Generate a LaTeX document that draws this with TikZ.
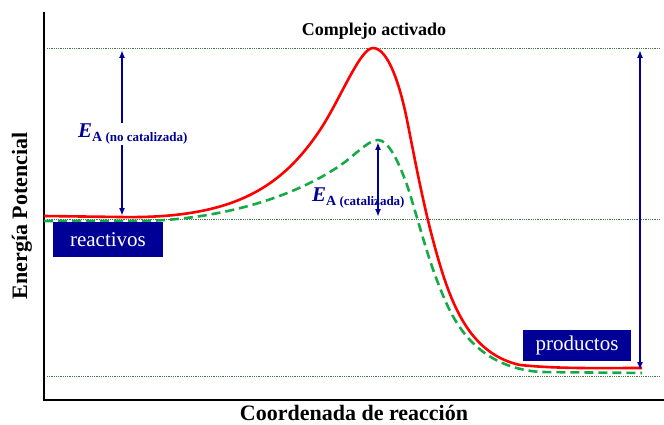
\documentclass[tikz,border=0pt]{standalone}
\usepackage{fontspec}
\setmainfont{Liberation Serif}
\usetikzlibrary{arrows.meta}
\definecolor{navy}{RGB}{0,0,150}
\definecolor{dotgreen}{RGB}{70,120,70}
\definecolor{dashgreen}{RGB}{20,170,70}
\tikzset{
  level/.style={dotgreen, densely dotted, line width=.8pt},
  ea/.style={navy, line width=2pt, {Latex[length=8pt,width=6pt]}-{Latex[length=8pt,width=6pt]}},
  statebox/.style={fill=navy, text=white, font=\fontsize{21}{21}\selectfont},
  ealabel/.style={navy, fill=white, inner sep=1pt, font=\bfseries\fontsize{13}{13}\selectfont},
}
\newcommand{\EA}[1]{{\fontsize{21}{21}\selectfont\textit{E}}\raisebox{-4pt}{{\fontsize{14}{14}\selectfont A} (#1)}}
\begin{document}
\begin{tikzpicture}[x=1pt, y=-1pt]
    \useasboundingbox (0,0) rectangle (664,425);
    \foreach \y in {48,219,376}
      \draw[level] (47,\y) -- (660,\y);
    \draw[line width=1.6pt] (44,12) -- (44,400) -- (664,400);

    \draw[dashgreen, line width=2.6pt, dash pattern=on 9pt off 5pt]
      (44,221) -- (130,221) .. controls (220,222) and (300,195) .. (345,162)
      .. controls (360,150) and (370,140) .. (378,140)
      .. controls (388,140) and (398,160) .. (407,185)
      .. controls (418,218) and (428,262) .. (445,300)
      .. controls (462,340) and (490,368) .. (540,372) -- (642,373);
    \draw[red, line width=2.6pt]
      (44,216) -- (120,217) .. controls (230,219) and (280,190) .. (320,130)
      .. controls (340,100) and (360,48) .. (373,48)
      .. controls (388,48) and (400,85) .. (407,120)
      .. controls (416,165) and (425,215) .. (440,265)
      .. controls (455,315) and (475,355) .. (520,365)
      .. controls (560,369) and (600,368) .. (642,368);

    \coordinate (topL) at (122,50);
    \coordinate (botL) at (122,216);
    \coordinate (topC) at (378,142);
    \coordinate (botC) at (378,217);
    \coordinate (topR) at (640,50);
    \coordinate (botR) at (640,370);
    \draw[ea] (topL) -- (botL);
    \draw[ea] (topC) -- (botC);
    \draw[ea] (topR) -- (botR);

    \node[ealabel, anchor=west] (eanc) at (77,134) {\EA{no catalizada}};
    \node[ealabel, anchor=west, fill=none] (eac) at (311,198) {\EA{catalizada}};

    \node[font=\bfseries\fontsize{18}{18}\selectfont] (complejo) at (374,31) {Complejo activado};
    \node[statebox, minimum width=110pt, minimum height=35pt] (reac) at (108,239.5) {reactivos};
    \node[statebox, minimum width=108pt, minimum height=31pt] (prod) at (577,345.5) {productos};
    \node[font=\bfseries\fontsize{22}{22}\selectfont] (xlab) at (354,413) {Coordenada de reacción};
    \node[font=\bfseries\fontsize{22}{22}\selectfont, rotate=90] (ylab) at (22,216) {Energía Potencial};
\end{tikzpicture}
\end{document}
